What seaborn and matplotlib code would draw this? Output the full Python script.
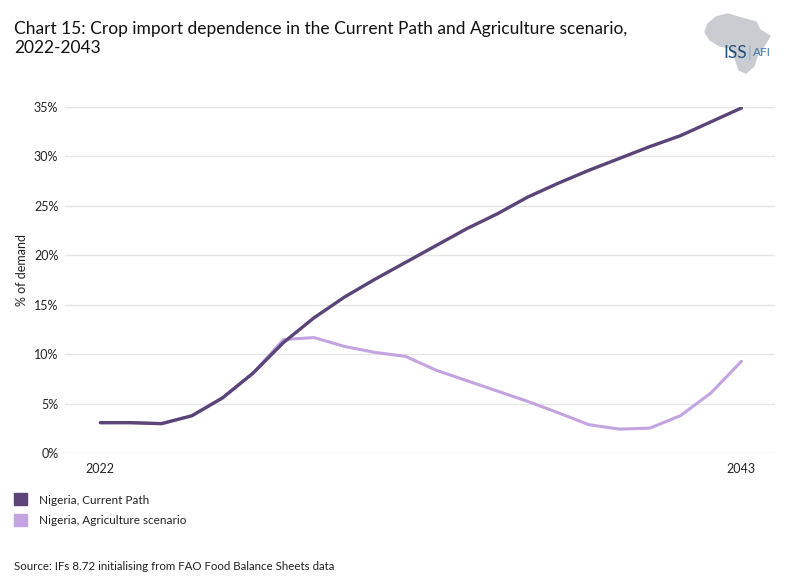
import numpy as np
import pandas as pd
import seaborn as sns
import matplotlib.pyplot as plt
from matplotlib.patches import Rectangle, Polygon

years = list(range(2022, 2044))
current_path = [3.1, 3.1, 3.0, 3.8, 5.6, 8.1, 11.2, 13.7, 15.8, 17.6, 19.3,
                21.0, 22.7, 24.2, 25.9, 27.3, 28.6, 29.8, 31.0, 32.1, 33.5, 34.9]
agriculture = [3.1, 3.1, 3.0, 3.8, 5.6, 8.1, 11.5, 11.7, 10.8, 10.2, 9.8,
               8.4, 7.35, 6.3, 5.25, 4.1, 2.9, 2.45, 2.55, 3.8, 6.1, 9.3]
series_names = ["Nigeria, Current Path", "Nigeria, Agriculture scenario"]
colors = ["#5b4478", "#c3a3e0"]
yticks = [0, 5, 10, 15, 20, 25, 30, 35]

df = pd.DataFrame({
    "year": years * 2,
    "value": current_path + agriculture,
    "series": [series_names[0]] * len(years) + [series_names[1]] * len(years),
})

sns.set_theme(style="white")
plt.rcParams['font.family'] = ['Lato', 'DejaVu Sans']

fig = plt.figure(figsize=(7.86, 5.88), dpi=100)
ax = fig.add_axes([0.083, 0.229, 0.903, 0.589])

# light line first so the dark one sits on top
sns.lineplot(data=df[df.series == series_names[1]], x="year", y="value",
             color=colors[1], linewidth=2.2, ax=ax, legend=False)
sns.lineplot(data=df[df.series == series_names[0]], x="year", y="value",
             color=colors[0], linewidth=2.4, ax=ax, legend=False)

ax.set_xlim(2020.85, 2044.1)
ax.set_ylim(0, 35)
ax.set_yticks(yticks)
ax.set_yticklabels([f"{t}%" for t in yticks], fontsize=9, color="#222222")
ax.set_xticks([2022, 2043])
ax.set_xticklabels(["2022", "2043"], fontsize=9, color="#222222")
ax.tick_params(axis="y", length=0, pad=5)
ax.tick_params(axis="x", length=0, pad=7)
ax.yaxis.grid(True, color="#e6e6e6", linewidth=1)
ax.set_xlabel("")
ax.set_ylabel("% of demand", fontsize=9, color="#222222")
ax.yaxis.set_label_coords(-0.052, 0.53)
sns.despine(ax=ax, left=True, bottom=True)

fig.text(0.018, 0.965, "Chart 15: Crop import dependence in the Current Path and Agriculture scenario,\n2022-2043",
         fontsize=12.5, va="top", ha="left", color="#111111", linespacing=1.3)

# legend
for i, name in enumerate(series_names):
    y = 1 - (500 + i * 21) / 588
    fig.patches.append(Rectangle((0.018, y - 0.009), 0.016, 0.021, color=colors[i],
                                 transform=fig.transFigure, figure=fig))
    fig.text(0.05, y, name, fontsize=8.5, va="center", ha="left", color="#222222")

fig.text(0.018, 1 - 567 / 588, "Source: IFs 8.72 initialising from FAO Food Balance Sheets data",
         fontsize=8.3, va="center", ha="left", color="#222222")

# logo
africa = [(708, 24), (716, 17), (728, 14), (738, 17), (748, 20), (756, 22), (760, 30),
          (770, 36), (764, 46), (757, 56), (754, 66), (746, 73), (739, 70), (735, 58),
          (731, 48), (720, 46), (710, 40), (705, 32)]
fig.patches.append(Polygon([(x / 786, 1 - y / 588) for x, y in africa], closed=True,
                           color="#c9ccd1", transform=fig.transFigure, figure=fig))
fig.text(723 / 786, 1 - 53 / 588, "ISS", fontsize=12.5, color="#1e4f7a", va="center", ha="left")
fig.text(748 / 786, 1 - 53 / 588, "|", fontsize=11, color="#8fb0cc", va="center", ha="left")
fig.text(753 / 786, 1 - 53 / 588, "AFI", fontsize=8.5, color="#3d78a8", va="center", ha="left")

fig.savefig("out.png", dpi=100)
